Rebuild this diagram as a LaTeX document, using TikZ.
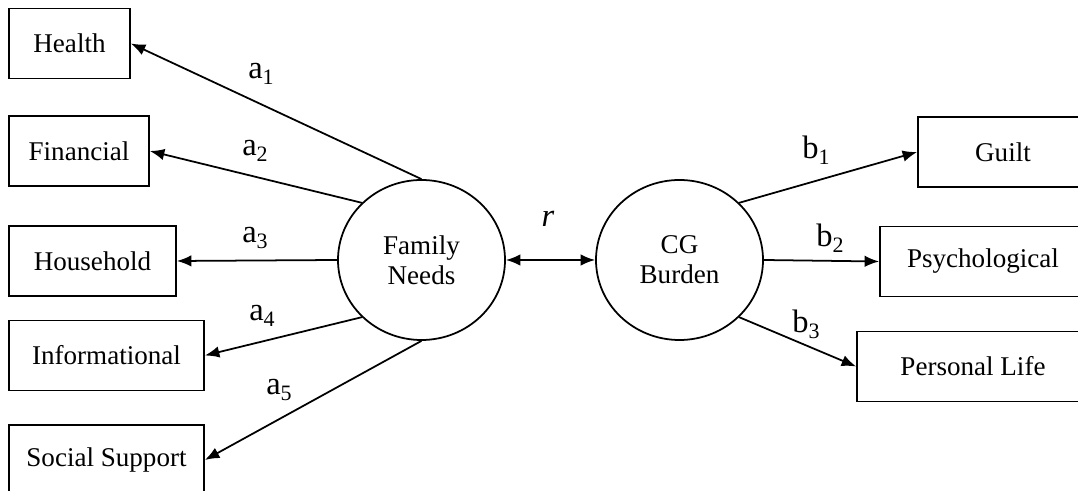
\documentclass[tikz,border=0pt]{standalone}
\usepackage{fontspec}
\setmainfont{Liberation Serif}
\usepackage{tikz}
\usetikzlibrary{shapes.geometric,arrows.meta}
\newcommand{\subidx}[1]{\raisebox{-3.6pt}{\fontsize{12.5}{13}\selectfont #1}}

\begin{document}
\begin{tikzpicture}[>={Latex[length=2.9mm,width=2.3mm]},font=\fontsize{15.4}{17}\selectfont,
  box/.style={draw,line width=1pt,rectangle,minimum height=1.4cm},
  latent/.style={draw,line width=1pt,ellipse,minimum width=3.34cm,minimum height=3.2cm,align=center},
  coef/.style={font=\fontsize{18.5}{20}\selectfont}]
\useasboundingbox (0,0) rectangle (21.56,9.82);
% indicators of family needs
\node [box,minimum width=2.42cm] (health) at(1.39,8.95){Health};
\node [box,minimum width=2.8cm] (fin) at(1.58,6.8){Financial};
\node [box,minimum width=3.34cm] (house) at(1.85,4.6){Household};
\node [box,minimum width=3.9cm] (info) at(2.13,2.71){Informational};
\node [box,minimum width=3.9cm] (social) at(2.13,0.62){Social Support};
% latent variables
\node [latent] (fn) at(8.43,4.62){Family\\Needs};
\node [latent] (cg) at(13.59,4.62){CG\\Burden};
% indicators of burden
\node [box,minimum width=3.4cm] (guilt) at(20.06,6.78){Guilt};
\node [box,minimum width=4.12cm] (psy) at(19.66,4.59){Psychological};
\node [box,minimum width=4.64cm] (life) at(19.46,2.49){Personal Life};
%\node [draw,rectangle] (other) at(19.5,1){...};
\draw[line width=1pt,->](fn.north) -- (health.east);
\draw[line width=1pt,->](fn.north west) -- (fin.east);
\draw[line width=1pt,->](fn.west) -- (house.east);
\draw[line width=1pt,->](fn.south west) -- (info.east);
\draw[line width=1pt,->](fn.south) -- (social.east);
\draw[line width=1pt,<->](fn.east) -- (cg.west);
\draw[line width=1pt,->](cg.north east) -- (guilt.west);
\draw[line width=1pt,->](cg.east) -- (psy.west);
\draw[line width=1pt,->](cg.south east) -- (life.west);
% path labels
\node [coef] (a1) at(5.22,8.34){a\subidx{1}};
\node [coef] (a2) at(5.1,6.8){a\subidx{2}};
\node [coef] (a3) at(5.1,5.06){a\subidx{3}};
\node [coef] (a4) at(5.24,3.5){a\subidx{4}};
\node [coef] (a5) at(5.58,2.02){a\subidx{5}};
\node [coef] (r) at(10.96,5.44){\textit{r}};
\node [coef] (b1) at(16.32,6.82){b\subidx{1}};
\node [coef] (b2) at(16.6,5.06){b\subidx{2}};
\node [coef] (b3) at(16.12,3.34){b\subidx{3}};
\end{tikzpicture}
\end{document}
